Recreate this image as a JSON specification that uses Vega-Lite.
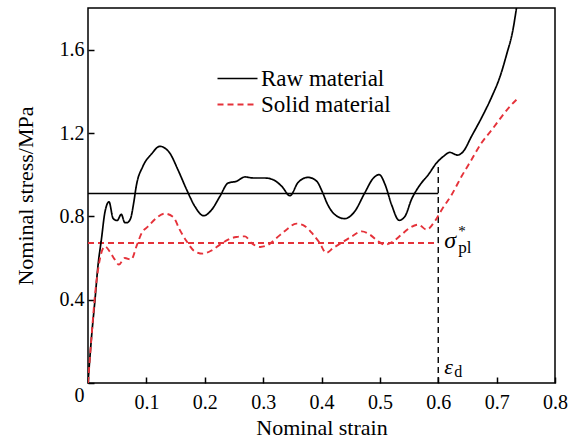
{
  "$schema": "https://vega.github.io/schema/vega-lite/v6.json",
  "autosize": {"type": "none"},
  "padding": {"left": 88, "top": 8, "right": 24, "bottom": 58},
  "width": 467,
  "height": 375,
  "background": "white",
  "config": {
    "view": {"stroke": "black", "strokeWidth": 1.5},
    "font": "Liberation Serif",
    "axis": {
      "grid": false,
      "domain": false,
      "tickColor": "black",
      "tickWidth": 1.5,
      "tickSize": 6,
      "offset": -6,
      "ticks": true,
      "labelFont": "Liberation Serif",
      "labelFontSize": 20,
      "labelColor": "black",
      "titleFont": "Liberation Serif",
      "titleFontSize": 22,
      "titleFontWeight": "normal",
      "titleColor": "black",
      "labelFlush": false,
      "labelOverlap": false
    },
    "legend": {
      "orient": "none",
      "legendX": 138,
      "legendY": 59,
      "padding": 0,
      "labelFont": "Liberation Serif",
      "labelFontSize": 23,
      "labelColor": "black",
      "symbolSize": 400,
      "symbolStrokeWidth": 1.8,
      "symbolType": "M-2,0L2,0",
      "labelOffset": 12,
      "rowPadding": 2,
      "labelLimit": 300
    }
  },
  "datasets": {
    "curves": [
      {"strain": 0.000, "stress": 0.00, "series": "Raw material"},
      {"strain": 0.006, "stress": 0.22, "series": "Raw material"},
      {"strain": 0.012, "stress": 0.40, "series": "Raw material"},
      {"strain": 0.017, "stress": 0.56, "series": "Raw material"},
      {"strain": 0.023, "stress": 0.69, "series": "Raw material"},
      {"strain": 0.029, "stress": 0.82, "series": "Raw material"},
      {"strain": 0.036, "stress": 0.87, "series": "Raw material"},
      {"strain": 0.043, "stress": 0.79, "series": "Raw material"},
      {"strain": 0.050, "stress": 0.78, "series": "Raw material"},
      {"strain": 0.057, "stress": 0.81, "series": "Raw material"},
      {"strain": 0.063, "stress": 0.77, "series": "Raw material"},
      {"strain": 0.067, "stress": 0.77, "series": "Raw material"},
      {"strain": 0.073, "stress": 0.79, "series": "Raw material"},
      {"strain": 0.078, "stress": 0.86, "series": "Raw material"},
      {"strain": 0.083, "stress": 0.95, "series": "Raw material"},
      {"strain": 0.094, "stress": 1.04, "series": "Raw material"},
      {"strain": 0.109, "stress": 1.10, "series": "Raw material"},
      {"strain": 0.123, "stress": 1.136, "series": "Raw material"},
      {"strain": 0.133, "stress": 1.125, "series": "Raw material"},
      {"strain": 0.140, "stress": 1.104, "series": "Raw material"},
      {"strain": 0.154, "stress": 1.024, "series": "Raw material"},
      {"strain": 0.169, "stress": 0.928, "series": "Raw material"},
      {"strain": 0.183, "stress": 0.848, "series": "Raw material"},
      {"strain": 0.198, "stress": 0.803, "series": "Raw material"},
      {"strain": 0.212, "stress": 0.832, "series": "Raw material"},
      {"strain": 0.226, "stress": 0.896, "series": "Raw material"},
      {"strain": 0.240, "stress": 0.960, "series": "Raw material"},
      {"strain": 0.254, "stress": 0.968, "series": "Raw material"},
      {"strain": 0.269, "stress": 0.989, "series": "Raw material"},
      {"strain": 0.283, "stress": 0.984, "series": "Raw material"},
      {"strain": 0.303, "stress": 0.984, "series": "Raw material"},
      {"strain": 0.317, "stress": 0.976, "series": "Raw material"},
      {"strain": 0.332, "stress": 0.944, "series": "Raw material"},
      {"strain": 0.346, "stress": 0.899, "series": "Raw material"},
      {"strain": 0.360, "stress": 0.963, "series": "Raw material"},
      {"strain": 0.377, "stress": 0.987, "series": "Raw material"},
      {"strain": 0.392, "stress": 0.968, "series": "Raw material"},
      {"strain": 0.401, "stress": 0.920, "series": "Raw material"},
      {"strain": 0.410, "stress": 0.860, "series": "Raw material"},
      {"strain": 0.423, "stress": 0.808, "series": "Raw material"},
      {"strain": 0.440, "stress": 0.789, "series": "Raw material"},
      {"strain": 0.457, "stress": 0.824, "series": "Raw material"},
      {"strain": 0.474, "stress": 0.912, "series": "Raw material"},
      {"strain": 0.489, "stress": 0.984, "series": "Raw material"},
      {"strain": 0.499, "stress": 1.000, "series": "Raw material"},
      {"strain": 0.509, "stress": 0.952, "series": "Raw material"},
      {"strain": 0.520, "stress": 0.856, "series": "Raw material"},
      {"strain": 0.533, "stress": 0.781, "series": "Raw material"},
      {"strain": 0.543, "stress": 0.800, "series": "Raw material"},
      {"strain": 0.554, "stress": 0.880, "series": "Raw material"},
      {"strain": 0.569, "stress": 0.952, "series": "Raw material"},
      {"strain": 0.583, "stress": 1.000, "series": "Raw material"},
      {"strain": 0.597, "stress": 1.056, "series": "Raw material"},
      {"strain": 0.609, "stress": 1.088, "series": "Raw material"},
      {"strain": 0.620, "stress": 1.107, "series": "Raw material"},
      {"strain": 0.633, "stress": 1.094, "series": "Raw material"},
      {"strain": 0.643, "stress": 1.112, "series": "Raw material"},
      {"strain": 0.657, "stress": 1.184, "series": "Raw material"},
      {"strain": 0.674, "stress": 1.272, "series": "Raw material"},
      {"strain": 0.692, "stress": 1.376, "series": "Raw material"},
      {"strain": 0.706, "stress": 1.472, "series": "Raw material"},
      {"strain": 0.717, "stress": 1.576, "series": "Raw material"},
      {"strain": 0.728, "stress": 1.696, "series": "Raw material"},
      {"strain": 0.734, "stress": 1.800, "series": "Raw material"},
      {"strain": 0.000, "stress": 0.00, "series": "Solid material"},
      {"strain": 0.006, "stress": 0.22, "series": "Solid material"},
      {"strain": 0.013, "stress": 0.45, "series": "Solid material"},
      {"strain": 0.020, "stress": 0.59, "series": "Solid material"},
      {"strain": 0.029, "stress": 0.656, "series": "Solid material"},
      {"strain": 0.037, "stress": 0.632, "series": "Solid material"},
      {"strain": 0.046, "stress": 0.592, "series": "Solid material"},
      {"strain": 0.053, "stress": 0.568, "series": "Solid material"},
      {"strain": 0.063, "stress": 0.600, "series": "Solid material"},
      {"strain": 0.074, "stress": 0.592, "series": "Solid material"},
      {"strain": 0.083, "stress": 0.656, "series": "Solid material"},
      {"strain": 0.092, "stress": 0.720, "series": "Solid material"},
      {"strain": 0.103, "stress": 0.752, "series": "Solid material"},
      {"strain": 0.117, "stress": 0.792, "series": "Solid material"},
      {"strain": 0.131, "stress": 0.813, "series": "Solid material"},
      {"strain": 0.146, "stress": 0.797, "series": "Solid material"},
      {"strain": 0.157, "stress": 0.736, "series": "Solid material"},
      {"strain": 0.169, "stress": 0.680, "series": "Solid material"},
      {"strain": 0.183, "stress": 0.632, "series": "Solid material"},
      {"strain": 0.197, "stress": 0.621, "series": "Solid material"},
      {"strain": 0.212, "stress": 0.637, "series": "Solid material"},
      {"strain": 0.226, "stress": 0.664, "series": "Solid material"},
      {"strain": 0.240, "stress": 0.688, "series": "Solid material"},
      {"strain": 0.254, "stress": 0.701, "series": "Solid material"},
      {"strain": 0.269, "stress": 0.704, "series": "Solid material"},
      {"strain": 0.280, "stress": 0.672, "series": "Solid material"},
      {"strain": 0.295, "stress": 0.653, "series": "Solid material"},
      {"strain": 0.309, "stress": 0.664, "series": "Solid material"},
      {"strain": 0.323, "stress": 0.696, "series": "Solid material"},
      {"strain": 0.340, "stress": 0.736, "series": "Solid material"},
      {"strain": 0.357, "stress": 0.765, "series": "Solid material"},
      {"strain": 0.372, "stress": 0.752, "series": "Solid material"},
      {"strain": 0.386, "stress": 0.712, "series": "Solid material"},
      {"strain": 0.397, "stress": 0.672, "series": "Solid material"},
      {"strain": 0.408, "stress": 0.624, "series": "Solid material"},
      {"strain": 0.420, "stress": 0.648, "series": "Solid material"},
      {"strain": 0.434, "stress": 0.672, "series": "Solid material"},
      {"strain": 0.452, "stress": 0.704, "series": "Solid material"},
      {"strain": 0.469, "stress": 0.728, "series": "Solid material"},
      {"strain": 0.483, "stress": 0.712, "series": "Solid material"},
      {"strain": 0.497, "stress": 0.680, "series": "Solid material"},
      {"strain": 0.509, "stress": 0.664, "series": "Solid material"},
      {"strain": 0.523, "stress": 0.680, "series": "Solid material"},
      {"strain": 0.537, "stress": 0.712, "series": "Solid material"},
      {"strain": 0.551, "stress": 0.744, "series": "Solid material"},
      {"strain": 0.566, "stress": 0.760, "series": "Solid material"},
      {"strain": 0.580, "stress": 0.736, "series": "Solid material"},
      {"strain": 0.594, "stress": 0.776, "series": "Solid material"},
      {"strain": 0.606, "stress": 0.832, "series": "Solid material"},
      {"strain": 0.623, "stress": 0.904, "series": "Solid material"},
      {"strain": 0.640, "stress": 0.992, "series": "Solid material"},
      {"strain": 0.657, "stress": 1.072, "series": "Solid material"},
      {"strain": 0.674, "stress": 1.152, "series": "Solid material"},
      {"strain": 0.692, "stress": 1.216, "series": "Solid material"},
      {"strain": 0.709, "stress": 1.280, "series": "Solid material"},
      {"strain": 0.723, "stress": 1.328, "series": "Solid material"},
      {"strain": 0.734, "stress": 1.360, "series": "Solid material"}
    ]
  },
  "layer": [
    {
      "data": {"values": [{"x": 0, "x2": 0.6, "y": 0.91}]},
      "mark": {"type": "rule", "color": "black", "strokeWidth": 1.5},
      "encoding": {
        "x": {"field": "x", "type": "quantitative", "scale": {"domain": [0, 0.8], "nice": false}},
        "x2": {"field": "x2"},
        "y": {"field": "y", "type": "quantitative", "scale": {"domain": [0, 1.8], "nice": false}}
      }
    },
    {
      "data": {"values": [{"x": 0, "x2": 0.6, "y": 0.672}]},
      "mark": {"type": "rule", "color": "#e5323a", "strokeWidth": 1.8, "strokeDash": [6, 4]},
      "encoding": {
        "x": {"field": "x", "type": "quantitative"},
        "x2": {"field": "x2"},
        "y": {"field": "y", "type": "quantitative"}
      }
    },
    {
      "data": {"values": [{"x": 0.6, "y": 0, "y2": 1.056}]},
      "mark": {"type": "rule", "color": "black", "strokeWidth": 1.4, "strokeDash": [6, 4]},
      "encoding": {
        "x": {"field": "x", "type": "quantitative"},
        "y": {"field": "y", "type": "quantitative"},
        "y2": {"field": "y2"}
      }
    },
    {
      "data": {"name": "curves"},
      "mark": {"type": "line", "interpolate": "monotone", "clip": true},
      "encoding": {
        "x": {
          "field": "strain", "type": "quantitative",
          "scale": {"domain": [0, 0.8], "nice": false},
          "axis": {
            "title": "Nominal strain",
            "values": [0, 0.1, 0.2, 0.3, 0.4, 0.5, 0.6, 0.7, 0.8],
            "labelExpr": "datum.value === 0 ? '' : format(datum.value, '.1f')",
            "labelPadding": 9,
            "titlePadding": 5
          }
        },
        "y": {
          "field": "stress", "type": "quantitative",
          "scale": {"domain": [0, 1.8], "nice": false},
          "axis": {
            "title": "Nominal stress/MPa",
            "values": [0, 0.4, 0.8, 1.2, 1.6],
            "labelExpr": "datum.value === 0 ? '0' : format(datum.value, '.1f')",
            "labelOffset": {"condition": {"test": "datum.value === 0", "value": 12}, "value": 0},
            "labelPadding": 4,
            "titlePadding": 22
          }
        },
        "color": {
          "field": "series", "type": "nominal",
          "scale": {"domain": ["Raw material", "Solid material"], "range": ["black", "#e5323a"]},
          "legend": {"title": null}
        },
        "strokeDash": {
          "field": "series", "type": "nominal",
          "scale": {"domain": ["Raw material", "Solid material"], "range": [[1, 0], [6, 4]]},
          "legend": {"title": null}
        },
        "strokeWidth": {
          "field": "series", "type": "nominal",
          "scale": {"domain": ["Raw material", "Solid material"], "range": [1.7, 1.9]},
          "legend": null
        }
      }
    },
    {
      "data": {"values": [{"x": 0.6, "y": 0.672, "t": "σ"}]},
      "mark": {"type": "text", "align": "left", "baseline": "middle", "dx": 6, "dy": -2, "fontSize": 24, "fontStyle": "italic", "font": "Liberation Serif", "color": "black"},
      "encoding": {
        "x": {"field": "x", "type": "quantitative"},
        "y": {"field": "y", "type": "quantitative"},
        "text": {"field": "t"}
      }
    },
    {
      "data": {"values": [{"x": 0.6, "y": 0.672, "t": "*"}]},
      "mark": {"type": "text", "align": "left", "baseline": "middle", "dx": 20, "dy": -12, "fontSize": 15, "font": "Liberation Serif", "color": "black"},
      "encoding": {
        "x": {"field": "x", "type": "quantitative"},
        "y": {"field": "y", "type": "quantitative"},
        "text": {"field": "t"}
      }
    },
    {
      "data": {"values": [{"x": 0.6, "y": 0.672, "t": "pl"}]},
      "mark": {"type": "text", "align": "left", "baseline": "middle", "dx": 20, "dy": 5, "fontSize": 17, "font": "Liberation Serif", "color": "black"},
      "encoding": {
        "x": {"field": "x", "type": "quantitative"},
        "y": {"field": "y", "type": "quantitative"},
        "text": {"field": "t"}
      }
    },
    {
      "data": {"values": [{"x": 0.6, "y": 0, "t": "ε"}]},
      "mark": {"type": "text", "align": "left", "baseline": "middle", "dx": 6, "dy": -16, "fontSize": 22, "fontStyle": "italic", "font": "Liberation Serif", "color": "black"},
      "encoding": {
        "x": {"field": "x", "type": "quantitative"},
        "y": {"field": "y", "type": "quantitative"},
        "text": {"field": "t"}
      }
    },
    {
      "data": {"values": [{"x": 0.6, "y": 0, "t": "d"}]},
      "mark": {"type": "text", "align": "left", "baseline": "middle", "dx": 16, "dy": -11, "fontSize": 16, "font": "Liberation Serif", "color": "black"},
      "encoding": {
        "x": {"field": "x", "type": "quantitative"},
        "y": {"field": "y", "type": "quantitative"},
        "text": {"field": "t"}
      }
    }
  ]
}
